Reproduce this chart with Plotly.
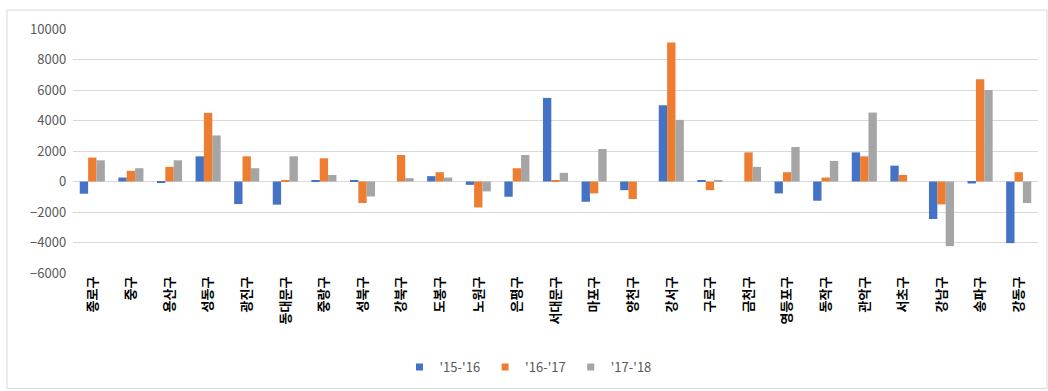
import plotly.graph_objects as go

districts = ["종로구", "중구", "용산구", "성동구", "광진구", "동대문구", "중랑구", "성북구",
             "강북구", "도봉구", "노원구", "은평구", "서대문구", "마포구", "양천구", "강서구",
             "구로구", "금천구", "영등포구", "동작구", "관악구", "서초구", "강남구", "송파구", "강동구"]

s1516 = [-800, 260, -100, 1650, -1480, -1520, 100, 100, 0, 350, -220, -1000, 5480, -1330,
         -570, 5000, 90, 0, -780, -1260, 1910, 1040, -2460, -130, -4040]
s1617 = [1570, 700, 960, 4500, 1650, 90, 1520, -1410, 1740, 610, -1700, 870, 90, -780,
         -1150, 9110, -570, 1910, 610, 260, 1650, 430, -1500, 6700, 610]
s1718 = [1390, 870, 1390, 3020, 870, 1650, 430, -980, 220, 260, -650, 1740, 570, 2130,
         0, 4040, 90, 960, 2260, 1350, 4520, 0, -4240, 6000, -1410]

series_names = ["'15-'16", "'16-'17", "'17-'18"]
colors = ["#4472C4", "#ED7D31", "#A5A5A5"]

fig = go.Figure()
for name, vals, col in zip(series_names, [s1516, s1617, s1718], colors):
    fig.add_trace(go.Bar(x=districts, y=vals, name=name, marker_color=col,
                         marker_line_width=0, showlegend=False, legendgroup=name))
# small square swatches for the legend
for name, col in zip(series_names, colors):
    fig.add_trace(go.Scatter(x=[None], y=[None], mode="markers", name=name,
                             legendgroup=name,
                             marker=dict(symbol="square", size=7, color=col)))

W, H = 1048, 391
L, R, T, B = 73, 10, 29, 117
pw, ph = W - L - R, H - T - B


def px_x(x):
    return (x - L) / pw


def px_y(y):
    return (H - B - y) / ph


fig.update_layout(
    width=W, height=H,
    margin=dict(l=L, r=R, t=T, b=B),
    paper_bgcolor="white", plot_bgcolor="white",
    barmode="group", bargap=0.35, bargroupgap=0,
    font=dict(family="Noto Sans CJK KR, sans-serif", color="#595959"),
    showlegend=True,
    legend=dict(orientation="h", x=px_x(528), xanchor="center", y=px_y(367), yanchor="middle",
                font=dict(size=13, color="#595959"), itemwidth=30,
                traceorder="normal", bgcolor="rgba(0,0,0,0)"),
    xaxis=dict(tickangle=-90,
               tickfont=dict(size=13, color="#000000", weight="bold",
                             family="Noto Sans CJK KR, sans-serif"),
               showgrid=False, showline=False, ticks="", zeroline=False),
    yaxis=dict(range=[-6000, 10000], dtick=2000, tickformat="d",
               showgrid=True, gridcolor="#D9D9D9",
               gridwidth=1, zeroline=True, zerolinecolor="#D9D9D9", zerolinewidth=1,
               tickfont=dict(size=13, color="#595959"), ticks="", showline=False,
               ticksuffix="  "),
    shapes=[dict(type="rect", xref="paper", yref="paper",
                 x0=px_x(7), x1=px_x(1047), y0=px_y(390), y1=px_y(10),
                 line=dict(color="#D9D9D9", width=1), fillcolor="rgba(0,0,0,0)",
                 layer="below")],
)

fig.write_html("out.html")
